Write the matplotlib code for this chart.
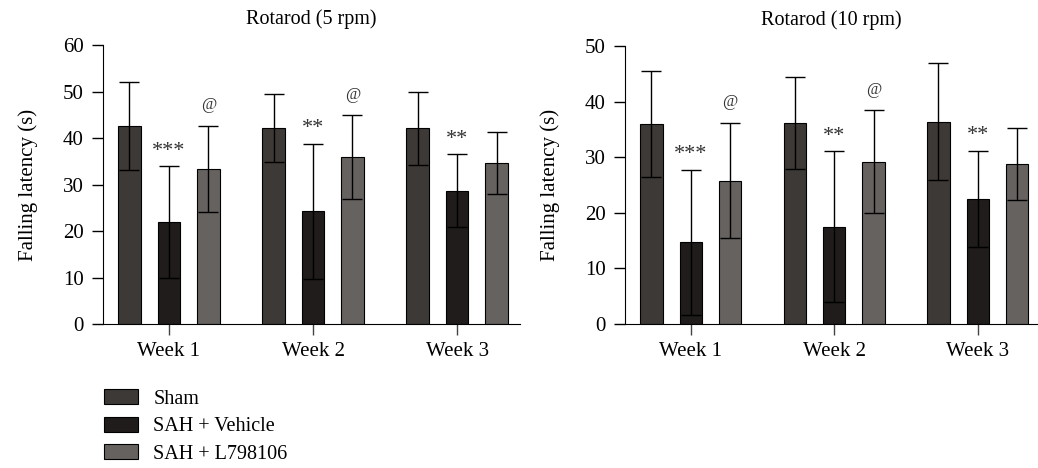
import matplotlib.pyplot as plt
import numpy as np

plt.rcParams['font.family'] = ['Liberation Serif', 'DejaVu Serif']

weeks = ['Week 1', 'Week 2', 'Week 3']
groups = ['Sham', 'SAH + Vehicle', 'SAH + L798106']
colors = ['#3d3936', '#1f1c1b', '#656260']

# rotarod 5 rpm: means and SD
rpm5_mean = {
    'Sham': [42.6, 42.1, 42.1],
    'SAH + Vehicle': [21.9, 24.2, 28.7],
    'SAH + L798106': [33.3, 35.9, 34.6],
}
rpm5_sd = {
    'Sham': [9.4, 7.3, 7.8],
    'SAH + Vehicle': [12.0, 14.6, 7.8],
    'SAH + L798106': [9.3, 9.0, 6.6],
}
# rotarod 10 rpm
rpm10_mean = {
    'Sham': [36.0, 36.1, 36.4],
    'SAH + Vehicle': [14.7, 17.5, 22.5],
    'SAH + L798106': [25.8, 29.2, 28.8],
}
rpm10_sd = {
    'Sham': [9.5, 8.3, 10.5],
    'SAH + Vehicle': [13.0, 13.6, 8.7],
    'SAH + L798106': [10.4, 9.2, 6.5],
}
# significance marks: vehicle vs sham (*), L798106 vs vehicle (@)
rpm5_marks = {'SAH + Vehicle': ['***', '**', '**'], 'SAH + L798106': ['@', '@', '']}
rpm10_marks = {'SAH + Vehicle': ['***', '**', '**'], 'SAH + L798106': ['@', '@', '']}


def draw_panel(ax, means, sds, marks, title, ymax, step, xright):
    x = np.arange(len(weeks))
    offsets = [-0.274, 0.0, 0.274]
    w = 0.155
    for g, off, c in zip(groups, offsets, colors):
        m = np.array(means[g])
        s = np.array(sds[g])
        ax.bar(x + off, m, w, color=c, edgecolor='black', linewidth=0.8, zorder=2)
        ax.errorbar(x + off, m, yerr=s, fmt='none', ecolor='black', elinewidth=1.0,
                    capsize=7.5, capthick=1.0, zorder=3)
        if g in marks:
            for xi, mi, si, t in zip(x + off, m, s, marks[g]):
                if t:
                    ax.annotate(t, (xi, mi + si), xytext=(0, 9 if t == '@' else 4),
                                textcoords='offset points', ha='center', va='bottom',
                                fontsize=16 if '*' in t else 12, color='#333333')
    ax.set_xlim(-0.458, xright)
    ax.set_ylim(0, ymax)
    ax.set_yticks(np.arange(0, ymax + 1, step))
    ax.set_xticks(x)
    ax.set_xticklabels(weeks)
    ax.spines['top'].set_visible(False)
    ax.spines['right'].set_visible(False)
    ax.tick_params(axis='y', length=8, width=1, labelsize=15, pad=6)
    ax.tick_params(axis='x', length=8, width=1, labelsize=15, pad=5, color='#444444')
    ax.set_ylabel('Falling latency (s)', fontsize=15, labelpad=18)
    ax.set_title(title, fontsize=14.5, pad=15)


fig = plt.figure(figsize=(10.38, 4.68), dpi=100)
ax1 = fig.add_axes([0.0992, 0.3077, 0.4018, 0.596])
ax2 = fig.add_axes([0.6021, 0.3077, 0.3979, 0.594])

draw_panel(ax1, rpm5_mean, rpm5_sd, rpm5_marks, 'Rotarod (5 rpm)', 60, 10, 2.437)
draw_panel(ax2, rpm10_mean, rpm10_sd, rpm10_marks, 'Rotarod (10 rpm)', 50, 10, 2.42)

handles = [plt.Rectangle((0, 0), 1, 1, facecolor=c, edgecolor='black', linewidth=0.8) for c in colors]
fig.legend(handles, groups, loc='upper left', bbox_to_anchor=(0.1, 0.168), frameon=False,
           fontsize=14.5, handlelength=1.7, handleheight=0.75, labelspacing=0.4, handletextpad=0.75,
           borderpad=0, borderaxespad=0)

fig.savefig('out.png', dpi=100)
